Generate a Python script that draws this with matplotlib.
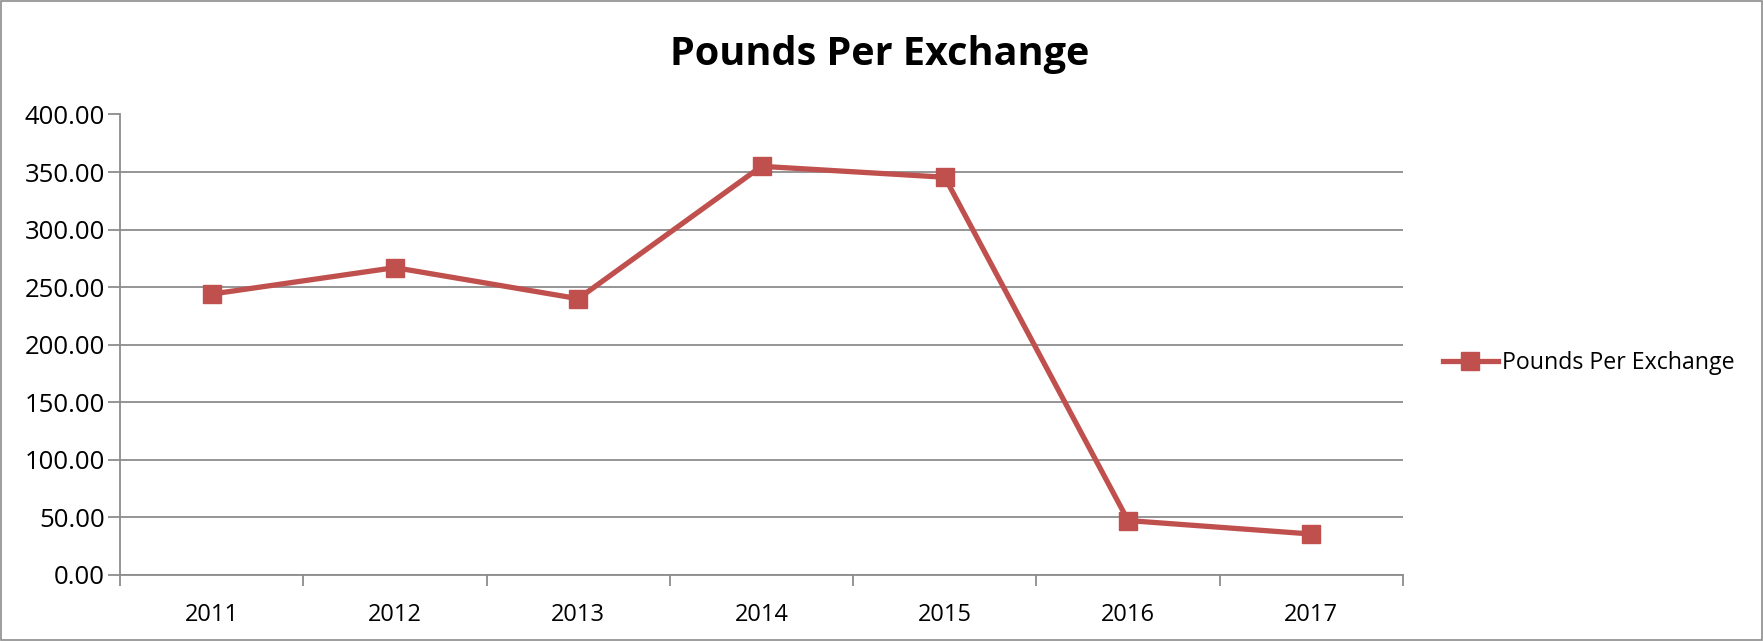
import numpy as np
import matplotlib.pyplot as plt
from matplotlib.patches import Rectangle

# data
years = ['2011', '2012', '2013', '2014', '2015', '2016', '2017']
pounds = [244.0, 267.0, 240.0, 355.0, 345.5, 47.3, 35.6]

plt.rcParams['font.family'] = ['Open Sans', 'DejaVu Sans']

fig = plt.figure(figsize=(17.63, 6.41), dpi=100)
ax = fig.add_axes([120/1763, 1 - 575/641, (1403-120)/1763, (575-114.5)/641])

x = np.arange(len(years))
line, = ax.plot(x, pounds, color='#C0504D', linewidth=3.8, marker='s',
                markersize=12.5, markerfacecolor='#C0504D', markeredgecolor='#C0504D',
                label='Pounds Per Exchange')

ax.set_xlim(-0.5, len(years) - 0.5)
ax.set_ylim(0, 400)
ax.set_yticks(np.arange(0, 401, 50))
ax.set_yticklabels(['%.2f' % v for v in np.arange(0, 401, 50)], fontsize=18.5)
ax.yaxis.grid(True, color='#8c8c8c', linewidth=1.3)
ax.set_axisbelow(True)

# category boundaries as major ticks, labels in the middle
ax.set_xticks(np.arange(-0.5, len(years), 1))
ax.set_xticklabels([])
ax.set_xticks(x, minor=True)
ax.set_xticklabels(years, minor=True, fontsize=17)
ax.tick_params(axis='x', which='minor', length=0, pad=20)
ax.tick_params(axis='x', which='major', length=8, color='#8c8c8c', width=1.3)
ax.tick_params(axis='y', length=9, color='#8c8c8c', width=1.3, pad=2)

for s in ['top', 'right']:
    ax.spines[s].set_visible(False)
for s in ['left', 'bottom']:
    ax.spines[s].set_color('#8c8c8c')
    ax.spines[s].set_linewidth(1.3)

fig.text(880/1763, 1 - 55/641, 'Pounds Per Exchange', ha='center', va='center',
         fontsize=28.5, fontweight='bold')

fig.legend(handles=[line], loc='center left', bbox_to_anchor=(1443/1763, 1 - 363/641),
           frameon=False, fontsize=16.7, handlelength=2.35, handletextpad=0.18,
           borderaxespad=0, borderpad=0)

fig.patches.append(Rectangle((0.0005, 0.001), 0.999, 0.997, transform=fig.transFigure,
                             fill=False, edgecolor='#8c8c8c', linewidth=1.2))

plt.savefig('out.png', dpi=100)
